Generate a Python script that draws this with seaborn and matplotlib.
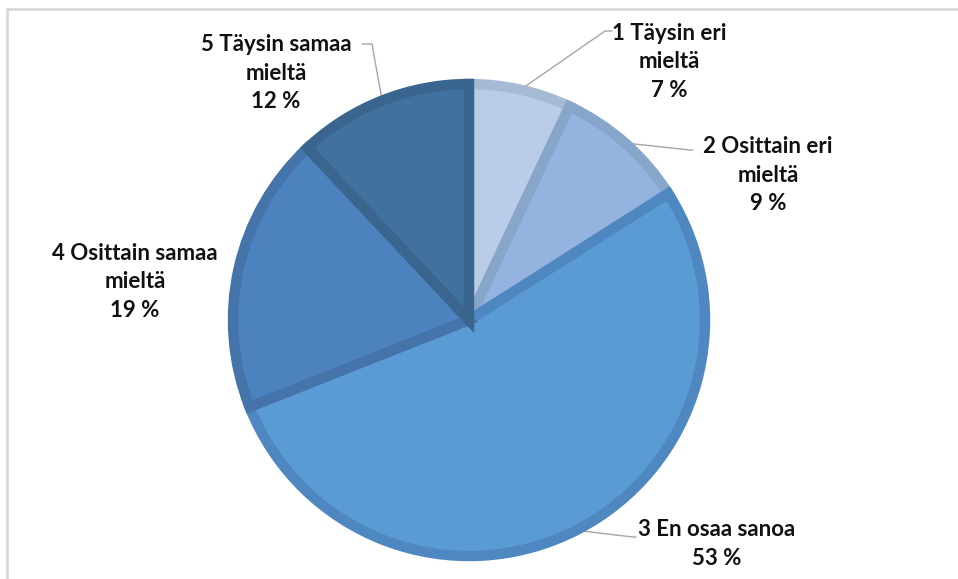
import numpy as np
import matplotlib
matplotlib.use("Agg")
import matplotlib.pyplot as plt
import seaborn as sns
from matplotlib.lines import Line2D

# data
categories = ["1 Täysin eri\nmieltä", "2 Osittain eri\nmieltä", "3 En osaa sanoa",
              "4 Osittain samaa\nmieltä", "5 Täysin samaa\nmieltä"]
shares = [7, 9, 53, 19, 12]
fill_colors = ["#BACCE8", "#94B3DE", "#5B9BD5", "#4C82BE", "#41729F"]
edge_colors = ["#A7BAD4", "#87A6CA", "#4F88C0", "#4474AA", "#3A658E"]

sns.set_theme(style="white")
plt.rcParams["font.family"] = ["Lato", "DejaVu Sans"]

W, H = 958, 579
cx, cy, R = 469, 320, 236  # pie centre / radius in pixels

fig = plt.figure(figsize=(W / 100, H / 100), dpi=100)
ax = fig.add_axes([0, 0, 1, 1])

wedges, _ = ax.pie(shares, colors=fill_colors, startangle=90, counterclock=False,
                   radius=1.0, center=(0, 0), frame=True,
                   wedgeprops=dict(linewidth=7.5, joinstyle="miter"))
for w, ec in zip(wedges, edge_colors):
    w.set_edgecolor(ec)
ax.axis("off")
ax.set_aspect("equal")
ax.set_xlim(-cx / R, (W - cx) / R)
ax.set_ylim(-(H - cy) / R, cy / R)


def px(x, y):
    return (x - cx) / R, (cy - y) / R


# label placement (pixels): text centre, elbow point, line end
label_pos = [(669, 62), (768, 175), (717, 544), (135, 282), (276, 73)]
elbows = [(605, 31), (690, 150), (633, 537), (240, 262), (372, 44)]
ends = [(612, 31), (693, 150), (636, 537), (240, 262), (362, 44)]

for i, (w, lab, val) in enumerate(zip(wedges, categories, shares)):
    ang = np.deg2rad((w.theta1 + w.theta2) / 2)
    sx, sy = np.cos(ang), np.sin(ang)
    ex, ey = px(*elbows[i])
    fx, fy = px(*ends[i])
    if i != 3:
        ax.plot([sx, ex, fx], [sy, ey, fy], color="#A6A6A6", lw=1, zorder=0)
    tx, ty = px(*label_pos[i])
    ax.text(tx, ty, f"{lab}\n{val} %", ha="center", va="center",
            fontsize=16, fontweight="bold", color="#111111", linespacing=1.42)

# chart frame (only left & top edges visible)
fig.add_artist(Line2D([7 / W, 7 / W], [0, 1 - 9 / H], transform=fig.transFigure,
                      color="#D9D9D9", lw=2))
fig.add_artist(Line2D([7 / W, 1], [1 - 9 / H, 1 - 9 / H], transform=fig.transFigure,
                      color="#D9D9D9", lw=2))

fig.savefig("out.png", dpi=100, facecolor="white")
